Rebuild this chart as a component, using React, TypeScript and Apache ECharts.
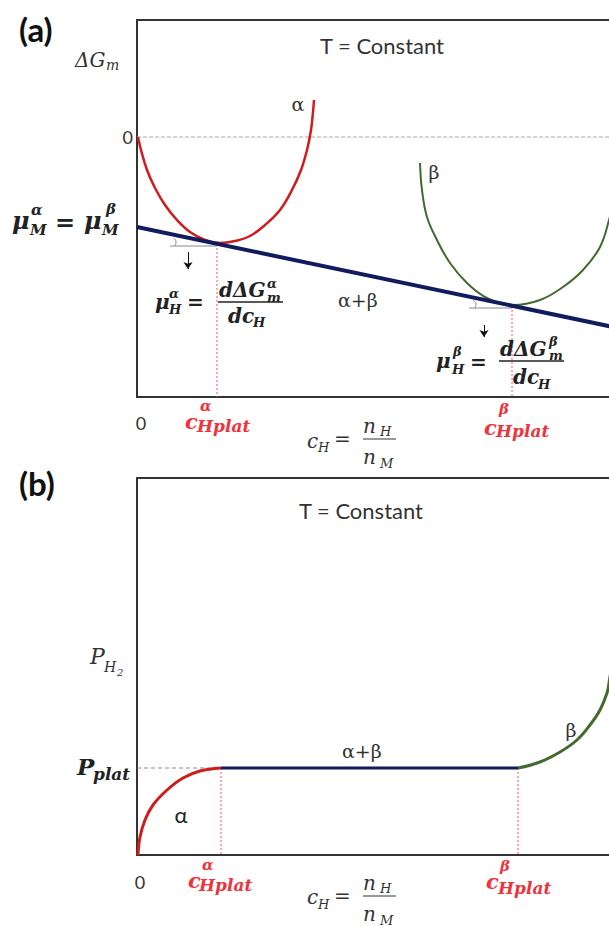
import React, { useEffect, useRef } from "react";
import * as echarts from "echarts";

// ---------- Panel (a): molar Gibbs energy of mixing vs. hydrogen content ----------
// x: c_H (arbitrary units, 0..9.44 visible), y: ΔG_m (arbitrary units)
const X_MAX = 9.44;
const aZeroLine = [[0, 0], [10, 0]];
const aAlphaCurve = [
  [0.02, 0], [0.08, -1.3], [0.2, -3.3], [0.36, -5.1], [0.56, -6.8], [0.8, -8.3],
  [1.06, -9.5], [1.36, -10.3], [1.66, -10.6], [1.96, -10.4], [2.26, -9.9],
  [2.56, -8.8], [2.86, -7.3], [3.1, -5.3], [3.28, -3.3], [3.4, -1.3],
  [3.48, 0.7], [3.52, 2.5], [3.54, 3.7],
];
const aBetaCurve = [
  [5.66, -2.6], [5.7, -5.3], [5.8, -8.0], [6.0, -10.3], [6.26, -12.6], [6.6, -14.6],
  [7.0, -16.1], [7.52, -16.8], [8.06, -16.3], [8.52, -15.0], [8.92, -13.3],
  [9.26, -11.0], [9.44, -8.3], [9.6, -5.0],
];
const aCommonTangent = [[0, -9.0], [10, -19.5]];
const aPlatAlpha = [[1.6, -10.7], [1.6, -26]];
const aPlatBeta = [[7.5, -16.9], [7.5, -26]];
const aRefAlpha = [[0.66, -10.9], [1.6, -10.9]];
const aRefBeta = [[6.64, -17.1], [7.5, -17.1]];
const aAngleAlpha = [[0.74, -10.1], [0.78, -10.5], [0.76, -10.9]];
const aAngleBeta = [[6.72, -16.3], [6.78, -16.7], [6.76, -17.1]];
const aArrowAlpha = [[1.02, -11.5], [1.02, -13.2]];
const aArrowBeta = [[6.94, -18.8], [6.94, -20.0]];

// ---------- Panel (b): pressure–composition isotherm ----------
const bAlphaCurve = [
  [0.02, 0], [0.06, 1.8], [0.16, 3.5], [0.32, 5.0], [0.6, 6.5], [0.92, 7.7],
  [1.26, 8.4], [1.68, 8.7],
];
const bPlateau = [[1.68, 8.7], [7.62, 8.7]];
const bBetaCurve = [
  [7.62, 8.7], [8.06, 9.3], [8.46, 10.3], [8.8, 11.5], [9.06, 13.0], [9.26, 14.5],
  [9.4, 16.2], [9.44, 17.2], [9.54, 20.5],
];
const bPlatGuide = [[0, 8.7], [1.68, 8.7]];
const bPlatAlpha = [[1.68, 8.7], [1.68, 0]];
const bPlatBeta = [[7.62, 8.7], [7.62, 0]];

const SERIF = '"DejaVu Serif", serif';
const SANS = 'Lato, "Open Sans", sans-serif';
const INK = "#333";
const RED = "#cf1c1c";
const NAVY = "#111c5e";
const GREEN = "#426a2e";
const PINK = "#f0506e";
const RED_TXT = "#f0323c";

type TOpt = { family?: string; style?: string; weight?: string; fill?: string; align?: string };

function txt(x: number, y: number, text: string, size: number, o: TOpt = {}) {
  const family = o.family || SERIF;
  const style = o.style || "normal";
  const weight = o.weight || "normal";
  const fill = o.fill || INK;
  const align = o.align || "left";
  return {
    type: "text",
    x,
    y,
    z: 100,
    silent: true,
    style: {
      text,
      font: `${style} ${weight} ${size}px ${family}`,
      fill,
      textAlign: align,
      textVerticalAlign: "middle",
    },
  };
}

function bar(x1: number, x2: number, y: number, color = "#222", w = 1.5) {
  return {
    type: "line",
    z: 100,
    silent: true,
    shape: { x1, y1: y, x2, y2: y },
    style: { stroke: color, lineWidth: w },
  };
}

const BI: TOpt = { style: "italic", weight: "bold", fill: "#222" };
const IT: TOpt = { style: "italic", fill: INK };
const RB: TOpt = { style: "italic", weight: "bold", fill: RED_TXT };

function line(name: string, data: number[][], gi: number, color: string, width: number, extra: any = {}) {
  return {
    name,
    type: "line",
    xAxisIndex: gi * 2,
    yAxisIndex: gi,
    data,
    symbol: "none",
    silent: true,
    lineStyle: { color, width, type: "solid", ...(extra.lineStyle || {}) },
    smooth: extra.smooth || false,
    z: extra.z || 2,
    markLine: extra.markLine,
  };
}

function arrow(d: number[][]) {
  return {
    silent: true,
    symbol: ["none", "arrow"],
    symbolSize: 7,
    label: { show: false },
    lineStyle: { color: "#111", width: 1, type: "solid" },
    data: [[{ coord: d[0] }, { coord: d[1] }]],
  };
}

function buildOption() {
  const labels = [
    // panel (a)
    txt(19, 29, "(a)", 33, { family: SANS, weight: "bold", fill: "#111" }),
    txt(75, 60, "ΔG", 20, IT),
    txt(106, 65, "m", 14, IT),
    txt(133, 137, "0", 18, { family: SANS, align: "right" }),
    txt(382, 45, "T = Constant", 22, { family: SANS, align: "center" }),
    txt(298, 104, "α", 19, { align: "center" }),
    txt(434, 172, "β", 19, { align: "center" }),
    txt(338, 300, "α+β", 19),

    txt(12, 220, "μ", 24, BI),
    txt(31, 210, "α", 15, BI),
    txt(30, 230, "M", 15, BI),
    txt(55, 222, "=", 24, { weight: "bold", fill: "#222" }),
    txt(84, 220, "μ", 24, BI),
    txt(106, 209, "β", 15, BI),
    txt(102, 230, "M", 15, BI),

    txt(155, 302, "μ", 20, BI),
    txt(169, 293, "α", 13, BI),
    txt(169, 309, "H", 13, BI),
    txt(187, 302, "=", 20, { weight: "bold", fill: "#222" }),
    bar(218, 283, 302),
    txt(219, 290, "dΔG", 20, BI),
    txt(267, 283, "α", 13, BI),
    txt(267, 297, "m", 13, BI),
    txt(228, 316, "dc", 20, BI),
    txt(253, 322, "H", 13, BI),

    txt(436, 361, "μ", 20, BI),
    txt(453, 351, "β", 13, BI),
    txt(452, 369, "H", 13, BI),
    txt(470, 362, "=", 20, { weight: "bold", fill: "#222" }),
    bar(499, 564, 361),
    txt(500, 349, "dΔG", 20, BI),
    txt(549, 341, "β", 13, BI),
    txt(549, 355, "m", 13, BI),
    txt(513, 377, "dc", 20, BI),
    txt(538, 384, "H", 13, BI),

    txt(141, 423, "0", 18, { family: SANS, align: "center" }),
    txt(185, 421, "c", 21, RB),
    txt(200, 406, "α", 15, RB),
    txt(197, 426, "Hplat", 17, RB),
    txt(484, 427, "c", 21, RB),
    txt(499, 409, "β", 15, RB),
    txt(496, 431, "Hplat", 17, RB),

    txt(307, 441, "c", 20, IT),
    txt(318, 447, "H", 13, IT),
    txt(334, 439, "=", 20, { fill: INK }),
    bar(363, 396, 439, INK, 1.2),
    txt(363, 426, "n", 20, IT),
    txt(380, 431, "H", 13, IT),
    txt(363, 457, "n", 20, IT),
    txt(380, 463, "M", 13, IT),

    // panel (b)
    txt(19, 483, "(b)", 33, { family: SANS, weight: "bold", fill: "#111" }),
    txt(361, 510, "T = Constant", 22, { family: SANS, align: "center" }),
    txt(90, 656, "P", 22, IT),
    txt(104, 667, "H", 14, IT),
    txt(117, 672, "2", 10, IT),
    txt(77, 766, "P", 23, BI),
    txt(93, 774, "plat", 17, BI),
    txt(181, 814, "α", 22, { family: SANS, align: "center", fill: "#222" }),
    txt(342, 751, "α+β", 19),
    txt(571, 730, "β", 19, { align: "center" }),

    txt(140, 882, "0", 18, { family: SANS, align: "center" }),
    txt(188, 880, "c", 21, RB),
    txt(202, 865, "α", 15, RB),
    txt(199, 885, "Hplat", 17, RB),
    txt(486, 881, "c", 21, RB),
    txt(500, 866, "β", 15, RB),
    txt(498, 888, "Hplat", 17, RB),

    txt(307, 897, "c", 20, IT),
    txt(318, 904, "H", 13, IT),
    txt(334, 896, "=", 20, { fill: INK }),
    bar(363, 396, 896, INK, 1.2),
    txt(363, 883, "n", 20, IT),
    txt(380, 888, "H", 13, IT),
    txt(363, 914, "n", 20, IT),
    txt(380, 920, "M", 13, IT),
  ];

  const frame = { show: true, onZero: false, lineStyle: { color: "#333", width: 2 } };

  const grid = (top: number) => ({ left: 137, top, right: 0, height: 377, containLabel: false });

  const xAxis = (gi: number, position: string) => ({
    type: "value",
    gridIndex: gi,
    position,
    min: 0,
    max: X_MAX,
    axisLine: frame,
    axisTick: { show: false },
    axisLabel: { show: false },
    splitLine: { show: false },
  });

  const yAxis = (gi: number, min: number, max: number) => ({
    type: "value",
    gridIndex: gi,
    min,
    max,
    axisLine: frame,
    axisTick: { show: false },
    axisLabel: { show: false },
    splitLine: { show: false },
  });

  return {
    animation: false,
    backgroundColor: "#fff",
    grid: [grid(20), grid(478)],
    xAxis: [xAxis(0, "bottom"), xAxis(0, "top"), xAxis(1, "bottom"), xAxis(1, "top")],
    yAxis: [yAxis(0, -26, 11.7), yAxis(1, 0, 37.7)],
    series: [
      // (a)
      line("zero", aZeroLine, 0, "#aaa", 1, { lineStyle: { type: [4, 2] } }),
      line("cAlphaPlat", aPlatAlpha, 0, PINK, 1, { lineStyle: { type: [2, 2] } }),
      line("cBetaPlat", aPlatBeta, 0, PINK, 1, { lineStyle: { type: [2, 2] } }),
      line("alpha", aAlphaCurve, 0, RED, 2.5, { smooth: 0.4, z: 3 }),
      line("beta", aBetaCurve, 0, GREEN, 2, { smooth: 0.4, z: 3 }),
      line("alpha+beta", aCommonTangent, 0, NAVY, 4, { z: 4 }),
      line("refAlpha", aRefAlpha, 0, "#888", 1, { markLine: arrow(aArrowAlpha) }),
      line("refBeta", aRefBeta, 0, "#888", 1, { markLine: arrow(aArrowBeta) }),
      line("angleAlpha", aAngleAlpha, 0, "#888", 1, { smooth: true }),
      line("angleBeta", aAngleBeta, 0, "#888", 1, { smooth: true }),
      // (b)
      line("plateauGuide", bPlatGuide, 1, "#7d8ca6", 1, { lineStyle: { type: [4, 3] } }),
      line("cAlphaPlatB", bPlatAlpha, 1, PINK, 1, { lineStyle: { type: [2, 2] } }),
      line("cBetaPlatB", bPlatBeta, 1, PINK, 1, { lineStyle: { type: [2, 2] } }),
      line("alphaB", bAlphaCurve, 1, RED, 3, { smooth: 0.4, z: 3 }),
      line("plateau", bPlateau, 1, NAVY, 3, { z: 4 }),
      line("betaB", bBetaCurve, 1, GREEN, 3, { smooth: 0.4, z: 3 }),
    ],
    graphic: labels,
  };
}

export default function App() {
  const ref = useRef<HTMLDivElement>(null);
  useEffect(() => {
    if (!ref.current) return;
    const chart = echarts.init(ref.current, undefined, { renderer: "svg" });
    chart.setOption(buildOption() as any);
    return () => chart.dispose();
  }, []);
  return (
    <div
      ref={ref}
      style={{ position: "absolute", left: 0, top: 0, width: 609, height: 926, background: "#fff" }}
    />
  );
}
